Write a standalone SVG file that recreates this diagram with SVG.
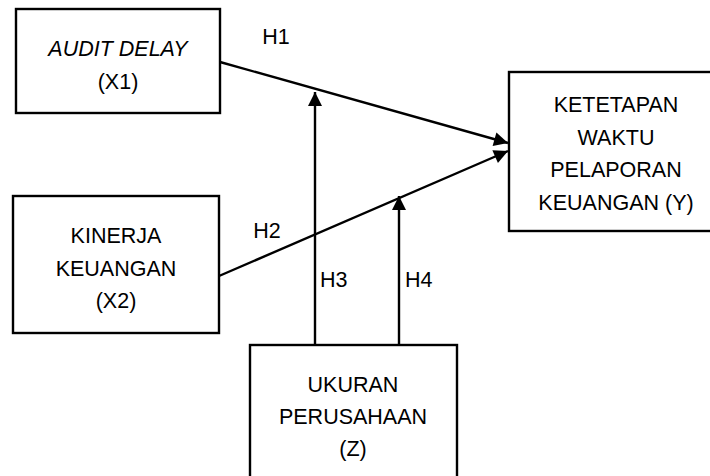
<svg xmlns="http://www.w3.org/2000/svg" width="710" height="476" viewBox="0 0 710 476">
  <style>
    .box { fill: #ffffff; stroke: #000000; stroke-width: 2.4; }
    .lbl { font-family: "Liberation Sans", Arial, sans-serif; font-size: 21.5px; fill: #000000; text-anchor: middle; }
    .hl { font-family: "Liberation Sans", Arial, sans-serif; font-size: 21.5px; fill: #000000; }
    .conn { stroke: #000000; stroke-width: 2.4; fill: none; }
  </style>
  <defs>
    <marker id="arrow" markerUnits="userSpaceOnUse" markerWidth="16" markerHeight="16" viewBox="0 0 16 16" refX="15" refY="8" orient="auto">
      <path d="M1,1 L15,8 L1,15 z" fill="#000000"/>
    </marker>
  </defs>
  <rect width="710" height="476" fill="#ffffff"/>

  <g id="connectors">
    <line class="conn" x1="220" y1="62" x2="508" y2="143" marker-end="url(#arrow)"/>
    <line class="conn" x1="219" y1="276" x2="508" y2="151" marker-end="url(#arrow)"/>
    <line class="conn" x1="315" y1="345" x2="315" y2="92" marker-end="url(#arrow)"/>
    <line class="conn" x1="399" y1="345" x2="399" y2="196" marker-end="url(#arrow)"/>
    <text class="hl" x="276" y="44" text-anchor="middle">H1</text>
    <text class="hl" x="267" y="238" text-anchor="middle">H2</text>
    <text class="hl" x="320" y="287">H3</text>
    <text class="hl" x="405" y="287">H4</text>
  </g>

  <g id="node-x1">
    <rect class="box" x="16" y="9" width="204" height="104"/>
    <text class="lbl" x="118" y="56" font-style="italic">AUDIT DELAY</text>
    <text class="lbl" x="118" y="89">(X1)</text>
  </g>

  <g id="node-x2">
    <rect class="box" x="13" y="196" width="206" height="137"/>
    <text class="lbl" x="116" y="243">KINERJA</text>
    <text class="lbl" x="116" y="276">KEUANGAN</text>
    <text class="lbl" x="116" y="308">(X2)</text>
  </g>

  <g id="node-y">
    <rect class="box" x="509" y="72" width="215" height="159"/>
    <text class="lbl" x="616" y="112">KETETAPAN</text>
    <text class="lbl" x="616" y="145">WAKTU</text>
    <text class="lbl" x="616" y="177">PELAPORAN</text>
    <text class="lbl" x="616" y="210">KEUANGAN (Y)</text>
  </g>

  <g id="node-z">
    <rect class="box" x="250" y="345" width="207" height="145"/>
    <text class="lbl" x="353" y="392">UKURAN</text>
    <text class="lbl" x="353" y="424">PERUSAHAAN</text>
    <text class="lbl" x="353" y="456">(Z)</text>
  </g>
</svg>
